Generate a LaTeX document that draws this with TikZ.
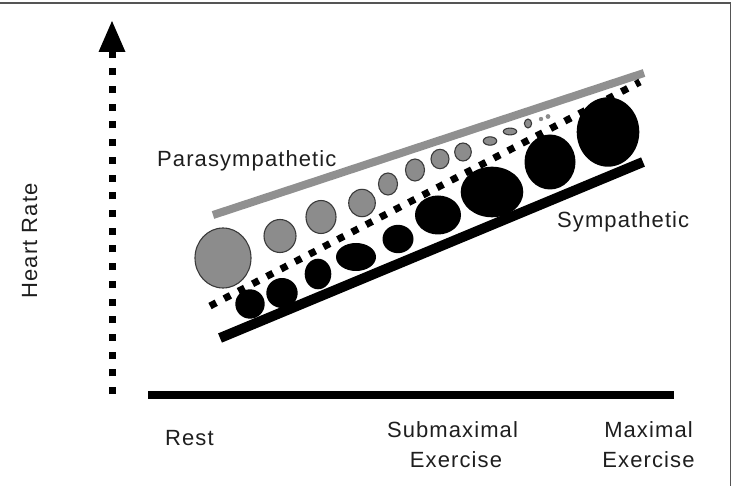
\documentclass[tikz,border=0pt]{standalone}
\usepackage{fontspec}
\setmainfont{Liberation Sans}[LetterSpace=5]
\definecolor{paragray}{HTML}{8C8C8C}
\definecolor{paraedge}{HTML}{3A3A3A}
\definecolor{lineg}{HTML}{909090}
\definecolor{txt}{HTML}{1E1E1E}
\definecolor{framec}{HTML}{555555}
\begin{document}
\begin{tikzpicture}[x=1pt,y=-1pt,
  lbl/.style={font=\fontsize{22}{30}\selectfont, text=txt, inner sep=0pt},
  para/.style={fill=paragray, draw=paraedge, line width=1.1pt},
  symp/.style={fill=black},
  dotline/.style={line width=7pt, dash pattern=on 7pt off 10.7pt},
  diagdots/.style={line width=7pt, dash pattern=on 7pt off 9pt}]
\useasboundingbox (0,0) rectangle (733,486);
% frame (partially visible)
\draw[framec, line width=1.4pt] (0,3) -- (730.5,3) -- (730.5,486);
% axes
\coordinate (ybot) at (112,394);
\coordinate (ybase) at (112,52);
\coordinate (ytip) at (112,21);
\draw[dotline] (ybot) -- (ybase);
\fill (ytip) -- (98.5,52) -- (125.5,52) -- cycle;
\coordinate (xl) at (148,395);
\coordinate (xr) at (674,395);
\draw[line width=8pt] (xl) -- (xr);
% trend lines
\coordinate (g1) at (213,215);
\coordinate (g2) at (644,73);
\draw[lineg, line width=8pt] (g1) -- (g2);
\coordinate (b1) at (220,338);
\coordinate (b2) at (643,162);
\draw[black, line width=10pt] (b1) -- (b2);
\coordinate (d1) at (210,306);
\coordinate (d2) at (640,82);
\draw[diagdots] (d1) -- (d2);
% parasympathetic circles
\filldraw[para] (223,258) ellipse [x radius=28pt, y radius=30pt];
\filldraw[para] (280,236) ellipse [x radius=16pt, y radius=16.5pt];
\filldraw[para] (321,217) ellipse [x radius=15pt, y radius=16.5pt];
\filldraw[para] (362,203) ellipse [x radius=13.3pt, y radius=13.7pt];
\filldraw[para] (388,184) ellipse [x radius=9.5pt, y radius=11pt];
\filldraw[para] (415,170) ellipse [x radius=9.5pt, y radius=11pt];
\filldraw[para] (440,159) ellipse [x radius=9pt, y radius=9.7pt];
\filldraw[para] (463,152) ellipse [x radius=8.3pt, y radius=9pt];
\filldraw[para] (490,141) ellipse [x radius=6.7pt, y radius=4.2pt];
\filldraw[para] (510,131.5) ellipse [x radius=6.7pt, y radius=3.4pt];
\filldraw[para] (528,123.5) ellipse [x radius=3.6pt, y radius=4.4pt];
\fill[paragray] (541,119) circle [radius=2.2pt];
\fill[paragray] (548,116.5) circle [radius=2.4pt];
% sympathetic ellipses
\fill[symp] (250,304) ellipse [x radius=14.7pt, y radius=14.7pt];
\fill[symp] (282,293) ellipse [x radius=15.7pt, y radius=15pt];
\fill[symp] (318,274) ellipse [x radius=13.3pt, y radius=15.3pt];
\fill[symp] (356,257) ellipse [x radius=20pt, y radius=14pt];
\fill[symp] (398,239) ellipse [x radius=15.5pt, y radius=14.2pt];
\fill[symp] (438,215) ellipse [x radius=23pt, y radius=19.5pt];
\fill[symp] (492,192) ellipse [x radius=31.3pt, y radius=25.3pt];
\fill[symp] (550,162) ellipse [x radius=25.5pt, y radius=27.5pt];
\fill[symp] (608,132) ellipse [x radius=31.3pt, y radius=34.7pt];
% labels
\node[lbl, anchor=base west] (para) at (157,167) {Parasympathetic};
\node[lbl, anchor=base west] (symp) at (557,228) {Sympathetic};
\node[lbl, anchor=base, rotate=90] (hr) at (37,241) {Heart Rate};
\node[lbl, anchor=base west] (rest) at (165,445) {Rest};
\node[lbl, anchor=base] (sub1) at (452.5,437) {Submaximal};
\node[lbl, anchor=base] (sub2) at (456,467) {Exercise};
\node[lbl, anchor=base] (max1) at (648.5,437) {Maximal};
\node[lbl, anchor=base] (max2) at (648.5,467) {Exercise};
\end{tikzpicture}
\end{document}
